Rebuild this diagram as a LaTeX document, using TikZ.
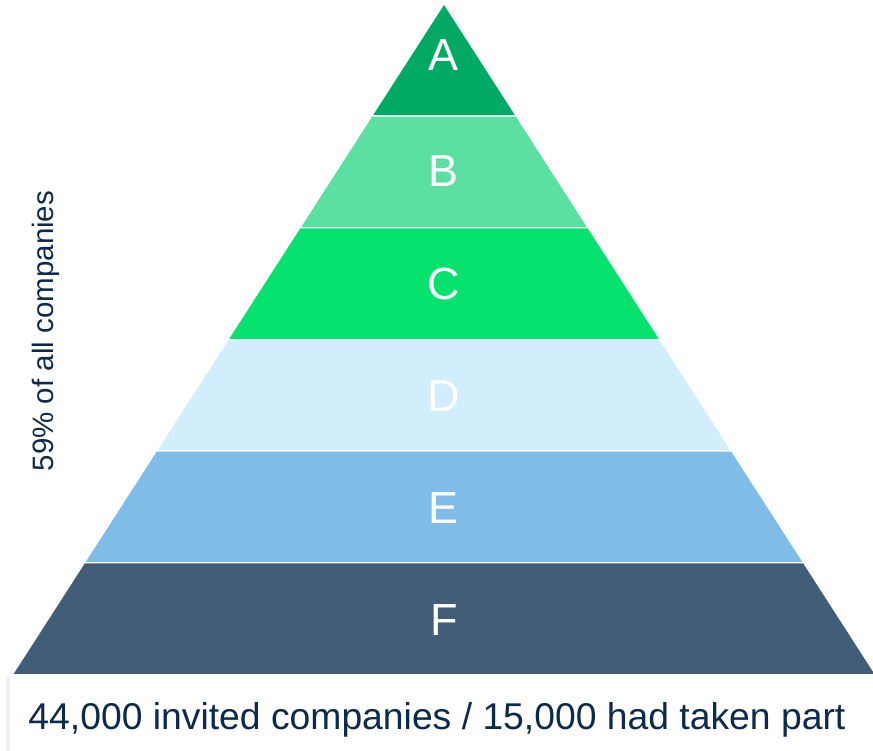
\documentclass[tikz,border=0pt]{standalone}
\usepackage{fontspec}
\setmainfont{Liberation Sans}
\usetikzlibrary{shadows}
\definecolor{layA}{RGB}{0,170,100}
\definecolor{layB}{RGB}{92,224,162}
\definecolor{layC}{RGB}{5,226,110}
\definecolor{layD}{RGB}{210,238,253}
\definecolor{layE}{RGB}{127,189,232}
\definecolor{layF}{RGB}{66,93,119}
\definecolor{navy}{RGB}{12,42,76}
\begin{document}
\begin{tikzpicture}[x=1pt,y=-1pt,
  lay/.style={text=white,inner sep=0pt,font=\fontsize{45}{45}\selectfont},
  caption/.style={text=navy,inner sep=0pt,font=\fontsize{37.3}{37.3}\selectfont}]
\useasboundingbox (0,0) rectangle (873,750);
\coordinate (top) at (444,5);
% pyramid layers, apex at y=5, base at y=675
\foreach \lab/\col/\ly [count=\i from 0] in {A/layA/55,B/layB/171,C/layC/284,D/layD/396,E/layE/508,F/layF/620}{
  \pgfmathsetmacro\ya{5+\i*670/6}\pgfmathsetmacro\yb{5+(\i+1)*670/6}
  \pgfmathsetmacro\wa{(\ya-5)/670*431}\pgfmathsetmacro\wb{(\yb-5)/670*431}
  \fill[\col] (444-\wa,\ya) -- (444+\wa,\ya) -- (444+\wb,\yb) -- (444-\wb,\yb) -- cycle;
  \draw[white,line width=2.5] (444-\wb-4,\yb) -- (444+\wb+4,\yb);
  \node[lay] (l\lab) at (444,\ly) {\lab};
}
\node[caption,rotate=90,font=\fontsize{29.5}{29.5}\selectfont] (share) at (46,331) {59\% of all companies};
\fill[white,drop shadow={shadow xshift=-4pt,shadow yshift=0pt,opacity=0.1}] (10,677) rectangle (885,760);
\node[caption,anchor=base] (invited) at (437,729) {44,000 invited companies / 15,000 had taken part};
\end{tikzpicture}
\end{document}
